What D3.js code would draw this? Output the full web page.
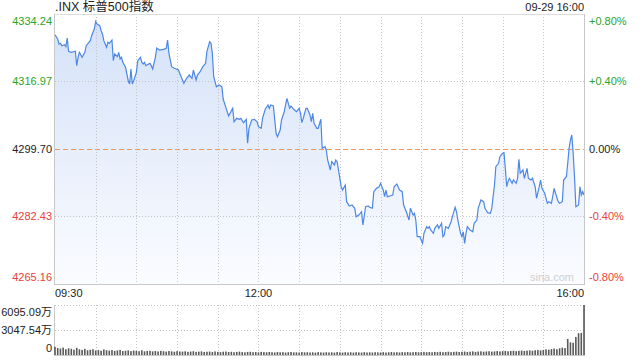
<!DOCTYPE html>
<html><head><meta charset="utf-8">
<script src="https://cdn.jsdelivr.net/npm/d3@7"></script>
<style>body{margin:0;background:#fff}svg{display:block}</style>
</head><body>
<svg id="c" width="640" height="360"></svg>
<script>
const title = ".INX 标普500指数";
const stamp = "09-29 16:00";
const prevClose = 4299.70;
const priceTicks = [4334.24, 4316.97, 4299.70, 4282.43, 4265.16];
const pctTicks = ["+0.80%", "+0.40%", "0.00%", "-0.40%", "-0.80%"];
const timeLabels = ["09:30", "12:00", "16:00"];
const timeLabelMinutes = [0, 150, 390];
const gridMinutes = [30,60,90,120,150,180,210,240,270,300,330,360];
const volTicks = [6095.09, 3047.54, 0];
const volTickLabels = ["6095.09万", "3047.54万", "0"];
// [minutes since 09:30, index level]
const series = [[0,4328.94],[2,4327.84],[3,4326.56],[4,4326.74],[5,4326.13],[7,4326.39],[8,4325.87],[9,4328.10],[10,4324.70],[12,4324.44],[15,4324.70],[16,4321.01],[17,4323.16],[18,4324.44],[20,4323.16],[22,4324.44],[23,4326.13],[26,4327.41],[27,4328.69],[28,4329.56],[29,4330.40],[30,4332.37],[31,4331.68],[33,4331.25],[34,4329.97],[35,4329.12],[36,4327.41],[38,4325.72],[39,4327.00],[40,4326.74],[42,4327.59],[43,4322.29],[44,4324.01],[46,4323.32],[47,4324.44],[48,4322.73],[49,4323.16],[50,4321.88],[52,4320.60],[54,4317.17],[55,4316.33],[56,4320.17],[57,4316.33],[58,4317.17],[60,4319.32],[61,4322.29],[63,4323.16],[64,4321.88],[65,4321.45],[66,4321.88],[67,4321.01],[69,4321.45],[70,4321.63],[71,4321.01],[72,4320.17],[74,4323.16],[75,4325.54],[77,4325.03],[80,4325.21],[82,4325.46],[83,4327.59],[84,4324.18],[86,4320.76],[88,4320.35],[91,4319.91],[93,4318.20],[95,4316.51],[97,4317.79],[99,4318.63],[101,4317.79],[102,4319.91],[104,4317.35],[105,4318.63],[107,4319.48],[109,4320.76],[111,4321.63],[112,4324.59],[114,4327.15],[115,4326.74],[116,4324.18],[117,4318.20],[119,4315.64],[121,4316.07],[123,4315.64],[124,4312.49],[125,4311.39],[128,4308.14],[131,4310.11],[132,4306.68],[134,4307.55],[136,4307.30],[137,4307.55],[139,4306.43],[141,4307.30],[142,4301.16],[143,4305.00],[145,4307.12],[147,4307.30],[149,4306.68],[150,4305.41],[152,4305.00],[153,4307.55],[155,4309.86],[157,4310.96],[158,4310.11],[159,4310.96],[161,4310.70],[163,4303.72],[164,4302.85],[166,4304.56],[167,4307.12],[169,4309.24],[171,4312.67],[173,4310.11],[174,4310.70],[176,4309.86],[178,4309.24],[180,4310.11],[181,4308.83],[182,4306.43],[183,4307.55],[185,4310.11],[186,4310.11],[188,4308.40],[189,4306.68],[190,4308.83],[191,4306.28],[193,4305.00],[194,4305.00],[196,4307.30],[197,4299.88],[199,4300.29],[200,4299.44],[201,4296.89],[202,4295.61],[203,4294.33],[204,4296.45],[206,4295.61],[207,4296.89],[208,4296.45],[209,4294.33],[211,4290.05],[212,4289.21],[214,4290.49],[215,4286.22],[217,4285.12],[219,4285.37],[221,4284.53],[222,4282.38],[224,4282.81],[226,4283.66],[227,4280.26],[229,4284.94],[231,4285.12],[232,4284.78],[234,4284.53],[235,4288.78],[237,4289.64],[239,4290.05],[240,4290.92],[242,4289.21],[243,4287.50],[244,4289.21],[245,4287.50],[247,4287.67],[249,4287.93],[250,4290.05],[252,4290.75],[254,4289.21],[256,4288.78],[257,4285.37],[259,4283.66],[261,4281.53],[262,4284.53],[264,4282.81],[265,4283.25],[266,4281.53],[267,4277.26],[269,4277.26],[271,4275.57],[272,4278.13],[274,4279.82],[275,4279.41],[276,4279.82],[277,4278.98],[279,4278.13],[280,4279.41],[282,4280.26],[283,4279.41],[285,4280.69],[286,4277.26],[287,4277.70],[288,4279.82],[290,4279.41],[292,4281.10],[293,4282.38],[295,4284.78],[296,4283.66],[297,4281.53],[299,4278.13],[300,4277.26],[301,4278.54],[302,4275.57],[303,4278.13],[304,4279.82],[306,4278.98],[308,4278.54],[309,4280.69],[311,4281.53],[312,4284.53],[314,4286.65],[316,4286.22],[317,4284.53],[319,4283.40],[321,4283.25],[322,4284.53],[324,4290.49],[325,4295.17],[327,4296.04],[328,4297.73],[330,4298.60],[331,4298.75],[332,4294.76],[333,4290.05],[334,4291.33],[335,4292.20],[337,4290.92],[338,4291.77],[340,4290.92],[341,4292.20],[342,4297.06],[343,4293.48],[345,4294.33],[346,4292.20],[348,4294.76],[349,4292.20],[351,4291.77],[352,4292.20],[354,4290.05],[355,4287.09],[357,4290.05],[358,4291.77],[359,4289.64],[361,4288.37],[363,4285.81],[364,4286.22],[366,4285.81],[368,4289.64],[369,4288.37],[371,4286.22],[372,4285.81],[374,4286.22],[375,4291.77],[377,4292.61],[378,4296.04],[379,4299.88],[380,4302.00],[381,4303.28],[382,4298.60],[383,4292.61],[384,4284.94],[386,4285.37],[387,4290.05],[388,4287.93],[389,4288.78],[390,4287.93]];
// volume (万), one bar per 2 minutes from 09:30
const volumes = [1000,850,780,900,700,820,760,650,880,700,
620,750,580,640,700,560,600,520,680,580,
540,600,500,560,620,480,520,560,470,540,
500,460,580,450,500,520,440,480,430,500,
460,420,480,440,400,470,430,410,450,390,
420,460,380,410,440,370,400,420,360,430,
380,350,400,420,360,390,340,380,410,350,
330,370,390,340,360,320,380,350,330,370,
340,310,360,330,350,300,340,370,320,330,
300,350,320,340,310,330,290,350,320,300,
340,310,330,290,360,320,300,340,310,330,
290,340,320,300,350,310,330,300,340,320,
310,350,300,330,360,320,340,310,350,330,
360,320,340,370,330,350,380,340,360,330,
370,350,390,340,360,400,350,380,410,360,
390,420,370,400,440,380,420,450,400,430,
460,410,440,480,430,470,500,450,490,520,
470,510,540,490,530,560,520,580,600,560,
620,690,650,720,780,700,820,900,850,1950,
1550,1500,2200,2650,2700,6095.09];

const svg = d3.select("#c");
const L = 55, R = 584, T = 14, B = 284, VT = 305, VB = 355;
const font = "'Liberation Sans', Arial, 'Noto Sans CJK SC', sans-serif";
const x = d3.scaleLinear().domain([0, 390]).range([L, R]);
const y = d3.scaleLinear().domain([4265.16, 4334.24]).range([B, T]);
const yv = d3.scaleLinear().domain([0, 6095.09]).range([VB, VT]);
const green = "#2aa52a", red = "#e8403a", dark = "#222";
const colorFor = v => v > prevClose + 0.001 ? green : (v < prevClose - 0.001 ? red : dark);

const defs = svg.append("defs");
const g = defs.append("linearGradient").attr("id", "fill").attr("gradientUnits", "userSpaceOnUse")
  .attr("x1", 0).attr("y1", T).attr("x2", 0).attr("y2", B);
g.append("stop").attr("offset", 0).attr("stop-color", "#d3e1f8");
g.append("stop").attr("offset", 1).attr("stop-color", "#fbfcff");

svg.append("path").datum(series)
  .attr("d", d3.area().x(d => x(d[0])).y0(B).y1(d => y(d[1])))
  .attr("fill", "url(#fill)");

const grid = svg.append("g").attr("stroke", "#c4c4c4").attr("stroke-dasharray", "1,2").attr("fill", "none");
gridMinutes.forEach(m => {
  const gx = Math.round(x(m)) + 0.5;
  grid.append("line").attr("x1", gx).attr("x2", gx).attr("y1", T).attr("y2", B);
  grid.append("line").attr("x1", gx).attr("x2", gx).attr("y1", VT).attr("y2", VB);
});
[priceTicks[1], priceTicks[3]].forEach(v => {
  const gy = Math.round(y(v)) + 0.5;
  grid.append("line").attr("x1", L).attr("x2", R).attr("y1", gy).attr("y2", gy);
});
[volTicks[0], volTicks[1]].forEach(v => {
  const gy = Math.round(yv(v)) + 0.5;
  grid.append("line").attr("x1", L).attr("x2", R).attr("y1", gy).attr("y2", gy);
});
svg.append("line").attr("x1", L).attr("x2", R)
  .attr("y1", Math.round(y(prevClose)) + 0.5).attr("y2", Math.round(y(prevClose)) + 0.5)
  .attr("stroke", "#f29660").attr("stroke-dasharray", "5,3");

svg.append("path").datum(series)
  .attr("d", d3.line().x(d => x(d[0])).y(d => y(d[1])))
  .attr("fill", "none").attr("stroke", "#4c87e6").attr("stroke-width", 1.2);

const bd = svg.append("g").attr("stroke", "#c8c8c8").attr("fill", "none");
bd.append("line").attr("x1", L).attr("x2", R).attr("y1", T + 0.5).attr("y2", T + 0.5).attr("stroke", "#dcdcdc");
bd.append("line").attr("x1", L).attr("x2", R + 0.5).attr("y1", B + 0.5).attr("y2", B + 0.5);
bd.append("line").attr("x1", L - 0.5).attr("x2", L - 0.5).attr("y1", T).attr("y2", B + 1);
bd.append("line").attr("x1", R + 0.5).attr("x2", R + 0.5).attr("y1", T).attr("y2", B + 1);
bd.append("line").attr("x1", L).attr("x2", R + 0.5).attr("y1", VB + 0.5).attr("y2", VB + 0.5);
bd.append("line").attr("x1", L - 0.5).attr("x2", L - 0.5).attr("y1", VT).attr("y2", VB + 1);
bd.append("line").attr("x1", R + 0.5).attr("x2", R + 0.5).attr("y1", VT).attr("y2", VB + 1);

svg.append("g").selectAll("rect").data(volumes).join("rect")
  .attr("x", (d, i) => x(i * 2) - 0.8)
  .attr("width", 1.6)
  .attr("y", d => yv(d))
  .attr("height", d => VB - yv(d))
  .attr("fill", "#5a5a5a");

const txt = svg.append("g").attr("font-family", font).attr("font-size", 11);
txt.append("text").attr("x", L).attr("y", 7).attr("dy", "0.35em").attr("font-size", 12.5).attr("fill", dark).text(title);
txt.append("text").attr("x", R).attr("y", 7).attr("dy", "0.35em").attr("text-anchor", "end").attr("fill", dark).text(stamp);

const labelY = (v, i) => i === 0 ? T + 7 : (i === priceTicks.length - 1 ? B - 7 : y(v));
priceTicks.forEach((v, i) => {
  txt.append("text").attr("x", L - 3).attr("y", labelY(v, i)).attr("dy", "0.35em")
    .attr("text-anchor", "end").attr("fill", colorFor(v)).text(v.toFixed(2));
  txt.append("text").attr("x", R + 5).attr("y", labelY(v, i)).attr("dy", "0.35em")
    .attr("fill", colorFor(v)).text(pctTicks[i]);
});
timeLabels.forEach((t, i) => {
  const m = timeLabelMinutes[i];
  txt.append("text").attr("x", x(m)).attr("y", 293).attr("dy", "0.35em")
    .attr("text-anchor", i === 0 ? "start" : (i === timeLabels.length - 1 ? "end" : "middle"))
    .attr("fill", dark).text(t);
});
volTicks.forEach((v, i) => {
  const vy = i === 0 ? VT + 7.5 : (i === volTicks.length - 1 ? VB - 7 : yv(v));
  txt.append("text").attr("x", L - 3).attr("y", vy).attr("dy", "0.35em")
    .attr("text-anchor", "end").attr("fill", dark).text(volTickLabels[i]);
});
txt.append("text").attr("x", 574).attr("y", 277).attr("dy", "0.35em").attr("text-anchor", "end")
  .attr("fill", "#cfcfcf").text("sina.com");
</script>
</body></html>
